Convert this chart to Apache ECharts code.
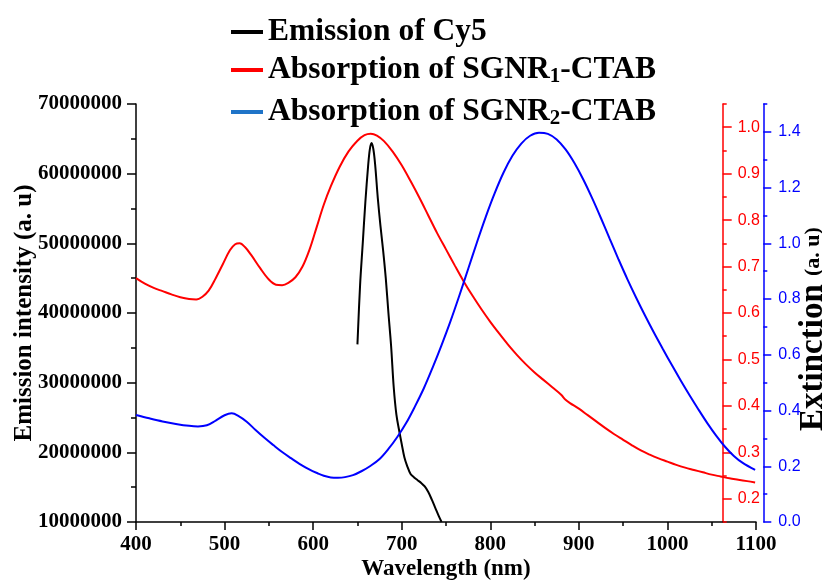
<!DOCTYPE html>
<html>
<head>
<meta charset="utf-8">
<script src="https://cdn.jsdelivr.net/npm/echarts@6/dist/echarts.min.js"></script>
<style>
  html, body { margin: 0; padding: 0; background: #fff; }
  #chart { width: 822px; height: 583px; }
</style>
</head>
<body>
<div id="chart"></div>
<script>
// Cy5 emission spectrum (a. u)
const emissionWavelength = [650, 653, 656, 659, 662, 664, 666, 668, 670, 673, 676, 679, 682, 685, 688, 691, 694, 697, 700, 703, 706, 710, 714, 718, 722, 726, 730, 734, 738, 742, 745];
const emissionCy5 = [35500000, 44000000, 50000000, 56000000, 61000000, 63500000, 64400000, 63500000, 61300000, 56500000, 52500000, 49000000, 45000000, 40000000, 35300000, 29300000, 25400000, 23200000, 21200000, 19300000, 18100000, 16900000, 16400000, 16000000, 15600000, 15100000, 14300000, 13200000, 12000000, 10800000, 10000000];

// SGNR1-CTAB absorption (red axis)
const sgnr1Wavelength = [400, 410, 420, 430, 440, 450, 460, 468, 475, 482, 490, 498, 506, 512, 517, 523, 530, 540, 550, 558, 565, 572, 580, 588, 596, 604, 612, 620, 630, 640, 650, 658, 665, 672, 680, 690, 700, 710, 720, 730, 740, 750, 760, 770, 780, 790, 800, 810, 820, 830, 840, 850, 860, 870, 880, 885, 890, 900, 910, 920, 930, 940, 950, 960, 970, 980, 990, 1000, 1010, 1020, 1030, 1040, 1050, 1060, 1070, 1080, 1090, 1099];
const sgnr1Extinction = [0.675, 0.663, 0.654, 0.647, 0.640, 0.634, 0.630, 0.629, 0.635, 0.648, 0.675, 0.705, 0.735, 0.748, 0.750, 0.742, 0.725, 0.697, 0.672, 0.661, 0.660, 0.665, 0.677, 0.700, 0.737, 0.785, 0.833, 0.873, 0.915, 0.948, 0.971, 0.983, 0.986, 0.982, 0.970, 0.947, 0.918, 0.884, 0.848, 0.810, 0.772, 0.737, 0.702, 0.668, 0.637, 0.608, 0.581, 0.556, 0.532, 0.510, 0.490, 0.472, 0.456, 0.440, 0.424, 0.413, 0.406, 0.394, 0.380, 0.366, 0.352, 0.339, 0.327, 0.315, 0.304, 0.295, 0.287, 0.280, 0.273, 0.267, 0.262, 0.257, 0.252, 0.248, 0.244, 0.241, 0.238, 0.235];

// SGNR2-CTAB absorption (blue axis)
const sgnr2Wavelength = [400, 415, 430, 445, 460, 470, 480, 490, 500, 508, 515, 525, 535, 545, 555, 565, 575, 585, 595, 605, 612, 620, 628, 636, 645, 655, 665, 675, 685, 695, 705, 715, 725, 735, 745, 755, 765, 775, 785, 795, 805, 815, 825, 835, 845, 855, 865, 875, 885, 895, 905, 915, 925, 935, 945, 955, 965, 975, 985, 995, 1005, 1015, 1025, 1035, 1045, 1055, 1065, 1075, 1085, 1099];
const sgnr2Extinction = [0.384, 0.372, 0.361, 0.352, 0.345, 0.343, 0.347, 0.364, 0.383, 0.390, 0.382, 0.360, 0.330, 0.302, 0.276, 0.251, 0.229, 0.208, 0.190, 0.175, 0.166, 0.160, 0.159, 0.161, 0.168, 0.183, 0.202, 0.226, 0.262, 0.305, 0.355, 0.415, 0.480, 0.555, 0.635, 0.720, 0.812, 0.908, 1.004, 1.096, 1.180, 1.254, 1.314, 1.358, 1.386, 1.397, 1.393, 1.373, 1.337, 1.288, 1.229, 1.162, 1.090, 1.015, 0.941, 0.870, 0.803, 0.739, 0.678, 0.620, 0.563, 0.508, 0.455, 0.404, 0.355, 0.310, 0.270, 0.237, 0.212, 0.187];

// Tick positions for the two extinction axes
const redMajorTicks = [0.2, 0.3, 0.4, 0.5, 0.6, 0.7, 0.8, 0.9, 1.0];
const redMinorTicks = [0.15, 0.25, 0.35, 0.45, 0.55, 0.65, 0.75, 0.85, 0.95, 1.05];
const blueMajorTicks = [0, 0.2, 0.4, 0.6, 0.8, 1.0, 1.2, 1.4];
const blueMinorTicks = [0.1, 0.3, 0.5, 0.7, 0.9, 1.1, 1.3, 1.5];

const SERIF = '"Liberation Serif", "Times New Roman", serif';
const SANS = '"Liberation Sans", Arial, sans-serif';
const RED = '#ff0000';
const BLUE = '#0000ff';

const pairs = (xs, ys) => xs.map((x, i) => [x, ys[i]]);

const chart = echarts.init(document.getElementById('chart'), null, { renderer: 'canvas' });

const legendText = {
  fontFamily: SERIF, fontWeight: 'bold', fontSize: 31.5, color: '#000', lineHeight: 34,
  rich: {
    b: { fontFamily: SERIF, fontWeight: 'bold', fontSize: 31.5, color: '#000', lineHeight: 34 },
    s: { fontFamily: SERIF, fontWeight: 'bold', fontSize: 21, color: '#000', lineHeight: 10, verticalAlign: 'bottom' }
  }
};

function legendRow(top, name, color, formatter) {
  return {
    left: 231, top: top, orient: 'vertical', icon: 'rect',
    itemWidth: 32, itemHeight: 4, selectedMode: false, padding: 0,
    itemStyle: { borderWidth: 0 },
    textStyle: legendText,
    formatter: formatter,
    data: [{ name: name, itemStyle: { color: color, borderWidth: 0 } }]
  };
}

const option = {
  animation: false,
  backgroundColor: '#fff',
  legend: [
    legendRow(15, 'Emission of Cy5', '#000000', '{b|Emission of Cy5}'),
    legendRow(53, 'Absorption of SGNR1-CTAB', RED, '{b|Absorption of SGNR}{s|1}{b|-CTAB}'),
    legendRow(95, 'Absorption of SGNR2-CTAB', '#1f74c8', '{b|Absorption of SGNR}{s|2}{b|-CTAB}')
  ],
  grid: { left: 136, right: 66, top: 104, bottom: 61, containLabel: false, outerBoundsMode: 'none' },
  xAxis: {
    type: 'value', min: 400, max: 1100, interval: 100,
    axisLine: { show: true, onZero: false, lineStyle: { color: '#000', width: 1.5 } },
    axisTick: { show: true, length: 8, lineStyle: { color: '#000', width: 1.5 } },
    minorTick: { show: true, splitNumber: 2, length: 4, lineStyle: { color: '#000', width: 1.5 } },
    splitLine: { show: false }, minorSplitLine: { show: false },
    axisLabel: { margin: 12, color: '#000', fontFamily: SERIF, fontWeight: 'bold', fontSize: 21, showMinLabel: true, showMaxLabel: true, formatter: v => v.toFixed(0) },
    name: 'Wavelength (nm)', nameLocation: 'middle', nameGap: 36, nameMoveOverlap: false,
    nameTextStyle: { color: '#000', fontFamily: SERIF, fontWeight: 'bold', fontSize: 23 }
  },
  yAxis: [
    {
      type: 'value', position: 'left', min: 10000000, max: 70000000, interval: 10000000,
      axisLine: { show: true, onZero: false, lineStyle: { color: '#000', width: 1.5 } },
      axisTick: { show: true, length: 9, lineStyle: { color: '#000', width: 1.5 } },
      minorTick: { show: true, splitNumber: 2, length: 5, lineStyle: { color: '#000', width: 1.5 } },
      splitLine: { show: false }, minorSplitLine: { show: false },
      axisLabel: { margin: 14, color: '#000', fontFamily: SERIF, fontWeight: 'bold', fontSize: 21, formatter: v => v.toFixed(0) },
      name: 'Emission intensity (a. u)', nameLocation: 'middle', nameRotate: 90, nameGap: 99, nameMoveOverlap: false,
      nameTextStyle: { color: '#000', fontFamily: SERIF, fontWeight: 'bold', fontSize: 25 }
    },
    {
      type: 'value', position: 'right', offset: -33.3, min: 0.15, max: 1.05,
      axisLine: { show: true, onZero: false, lineStyle: { color: RED, width: 1.5 } },
      axisTick: { show: true, length: 9, customValues: redMajorTicks, lineStyle: { color: RED, width: 1.5 } },
      splitLine: { show: false },
      axisLabel: { margin: 15, color: RED, fontFamily: SANS, fontSize: 16, customValues: redMajorTicks, formatter: v => v.toFixed(1) }
    },
    {
      type: 'value', position: 'right', offset: -33.3, min: 0.15, max: 1.05,
      axisLine: { show: false },
      axisTick: { show: true, length: 4, customValues: redMinorTicks, lineStyle: { color: RED, width: 1.5 } },
      splitLine: { show: false },
      axisLabel: { show: false }
    },
    {
      type: 'value', position: 'right', offset: 7.3, min: 0, max: 1.5,
      axisLine: { show: true, onZero: false, lineStyle: { color: BLUE, width: 1.5 } },
      axisTick: { show: true, length: 8, customValues: blueMajorTicks, lineStyle: { color: BLUE, width: 1.5 } },
      splitLine: { show: false },
      axisLabel: { margin: 15, color: BLUE, fontFamily: SANS, fontSize: 16, customValues: blueMajorTicks, formatter: v => v.toFixed(1) },
      name: '{big|Extinction }{small|(a. u)}', nameLocation: 'middle', nameRotate: 90, nameGap: 32, nameMoveOverlap: false,
      nameTextStyle: {
        padding: [0, 32, 0, 0],
        rich: {
          big: { fontFamily: SERIF, fontWeight: 'bold', fontSize: 33, color: '#000', lineHeight: 36, verticalAlign: 'middle' },
          small: { fontFamily: SERIF, fontWeight: 'bold', fontSize: 22, color: '#000', lineHeight: 36, verticalAlign: 'middle' }
        }
      }
    },
    {
      type: 'value', position: 'right', offset: 7.3, min: 0, max: 1.5,
      axisLine: { show: false },
      axisTick: { show: true, length: 4, customValues: blueMinorTicks, lineStyle: { color: BLUE, width: 1.5 } },
      splitLine: { show: false },
      axisLabel: { show: false }
    }
  ],
  series: [
    {
      name: 'Emission of Cy5', type: 'line', yAxisIndex: 0, smooth: 0.35, showSymbol: false,
      itemStyle: { color: '#000' }, lineStyle: { color: '#000', width: 2 },
      data: pairs(emissionWavelength, emissionCy5)
    },
    {
      name: 'Absorption of SGNR1-CTAB', type: 'line', yAxisIndex: 1, smooth: 0.35, showSymbol: false,
      itemStyle: { color: RED }, lineStyle: { color: RED, width: 2 },
      data: pairs(sgnr1Wavelength, sgnr1Extinction)
    },
    {
      name: 'Absorption of SGNR2-CTAB', type: 'line', yAxisIndex: 3, smooth: 0.35, showSymbol: false,
      itemStyle: { color: BLUE }, lineStyle: { color: BLUE, width: 2 },
      data: pairs(sgnr2Wavelength, sgnr2Extinction)
    }
  ]
};

chart.setOption(option);
</script>
</body>
</html>
